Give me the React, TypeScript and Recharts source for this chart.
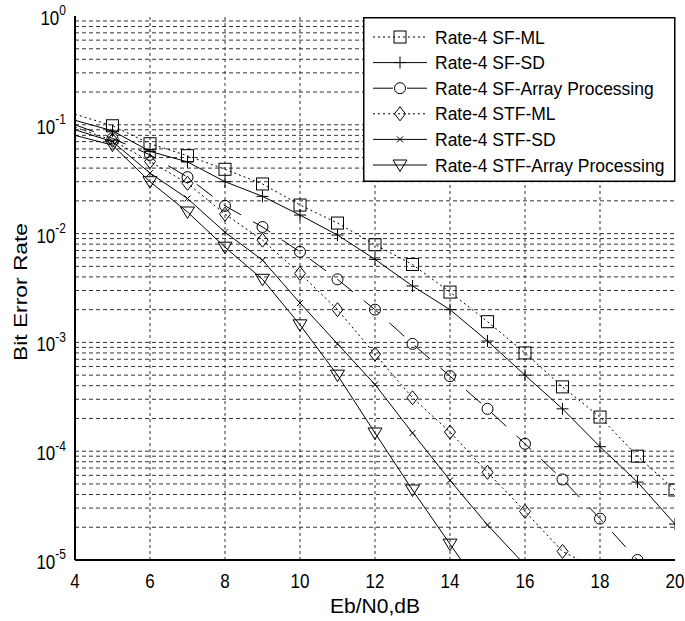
import React from 'react';
import { LineChart, Line, XAxis, YAxis, ReferenceLine, Legend, Label } from 'recharts';

const FONT = '"Liberation Sans", Arial, Helvetica, sans-serif';

// Eb/N0 (dB)
const snrDb = [4, 5, 6, 7, 8, 9, 10, 11, 12, 13, 14, 15, 16, 17, 18, 19, 20];

// Bit error rate series
const sfMl = [0.125, 0.098, 0.067, 0.052, 0.039, 0.0286, 0.0183, 0.0125, 0.0079, 0.0052, 0.0029, 0.00155, 0.0008, 0.00039, 0.000206, 0.00009, 0.000044];
const sfSd = [0.11, 0.088, 0.057, 0.0456, 0.03, 0.022, 0.0148, 0.0097, 0.0058, 0.0033, 0.002, 0.00103, 0.0005, 0.000245, 0.00011, 0.000052, 0.0000214];
const sfArray = [0.1, 0.075, 0.053, 0.033, 0.018, 0.0115, 0.0068, 0.0038, 0.002, 0.00097, 0.00049, 0.000245, 0.000117, 0.000055, 0.000024, 0.00001, null];
const stfMl = [0.095, 0.072, 0.046, 0.029, 0.0151, 0.0087, 0.0043, 0.002, 0.00078, 0.00031, 0.00015, 0.000064, 0.000028, 0.000012, 0.000008, null, null];
const stfSd = [0.09, 0.07, 0.036, 0.021, 0.0103, 0.0057, 0.0023, 0.00097, 0.00041, 0.000147, 0.000054, 0.000021, 0.000009, null, null, null, null];
const stfArray = [0.08, 0.065, 0.03, 0.0158, 0.0075, 0.0038, 0.00145, 0.0005, 0.000147, 0.000044, 0.000014, 0.0000045, null, null, null, null, null];

const seriesNames = [
  'Rate-4 SF-ML',
  'Rate-4 SF-SD',
  'Rate-4 SF-Array Processing',
  'Rate-4 STF-ML',
  'Rate-4 STF-SD',
  'Rate-4 STF-Array Processing',
];

const xTicks = [4, 6, 8, 10, 12, 14, 16, 18, 20];
const xGrid = [6, 8, 10, 12, 14, 16, 18];
const yTicks = [0.00001, 0.0001, 0.001, 0.01, 0.1, 1];
const yGrid = [
  2e-5, 3e-5, 4e-5, 5e-5, 6e-5, 7e-5, 8e-5, 9e-5,
  1e-4, 2e-4, 3e-4, 4e-4, 5e-4, 6e-4, 7e-4, 8e-4, 9e-4,
  1e-3, 2e-3, 3e-3, 4e-3, 5e-3, 6e-3, 7e-3, 8e-3, 9e-3,
  1e-2, 2e-2, 3e-2, 4e-2, 5e-2, 6e-2, 7e-2, 8e-2, 9e-2,
  1e-1, 2e-1, 3e-1, 4e-1, 5e-1, 6e-1, 7e-1, 8e-1, 9e-1,
];

const seriesDefs = [
  { key: 'sfMl', values: sfMl, name: seriesNames[0], marker: 'square', dash: '2 3' },
  { key: 'sfSd', values: sfSd, name: seriesNames[1], marker: 'plus', dash: undefined },
  { key: 'sfArray', values: sfArray, name: seriesNames[2], marker: 'circle', dash: '20 14' },
  { key: 'stfMl', values: stfMl, name: seriesNames[3], marker: 'diamond', dash: '2 3' },
  { key: 'stfSd', values: stfSd, name: seriesNames[4], marker: 'cross', dash: undefined },
  { key: 'stfArray', values: stfArray, name: seriesNames[5], marker: 'triangle', dash: undefined },
];

const data = snrDb.map((x, i) => {
  const row: any = { x };
  seriesDefs.forEach((s) => {
    row[s.key] = s.values[i];
  });
  return row;
});

function markerShape(shape: string, cx: number, cy: number, key?: string) {
  const common = { fill: 'none', stroke: '#000', strokeWidth: 1 } as any;
  switch (shape) {
    case 'square':
      return <rect key={key} x={cx - 6} y={cy - 6} width={12} height={12} {...common} />;
    case 'plus':
      return <path key={key} d={`M${cx - 6},${cy}H${cx + 6}M${cx},${cy - 6}V${cy + 6}`} {...common} />;
    case 'circle':
      return <circle key={key} cx={cx} cy={cy} r={5.5} {...common} />;
    case 'diamond':
      return <path key={key} d={`M${cx},${cy - 7}L${cx + 5.5},${cy}L${cx},${cy + 7}L${cx - 5.5},${cy}Z`} {...common} />;
    case 'cross':
      return <path key={key} d={`M${cx - 3},${cy - 3}L${cx + 3},${cy + 3}M${cx + 3},${cy - 3}L${cx - 3},${cy + 3}`} {...common} />;
    case 'triangle':
      return <path key={key} d={`M${cx - 7},${cy - 5}L${cx + 7},${cy - 5}L${cx},${cy + 6.5}Z`} {...common} />;
    default:
      return <g key={key} />;
  }
}

function makeDot(shape: string) {
  return (props: any) => {
    const { cx, cy, payload, value, index } = props;
    const k = `dot-${shape}-${index}`;
    const v = Array.isArray(value) ? value[1] : value;
    if (cx == null || cy == null || payload == null || payload.x === 4 || v == null || v < 9.5e-6) {
      return <g key={k} />;
    }
    return markerShape(shape, cx, cy, k);
  };
}

const renderLegend = () => {
  const rowGap = 25.6;
  return (
    <svg width={313} height={165} style={{ display: 'block' }}>
      <rect x={0.75} y={0.75} width={311} height={163.5} fill="#fff" stroke="#000" strokeWidth={1.5} />
      {seriesDefs.map((s, i) => {
        const cy = 20 + i * rowGap;
        return (
          <g key={s.key}>
            <line x1={10} x2={64} y1={cy} y2={cy} stroke="#000" strokeWidth={1} strokeDasharray={s.dash} />
            {markerShape(s.marker, 37, cy)}
            <text x={0} y={0} transform={`translate(72, ${cy + 6.5}) scale(1, 1.08)`} fontSize={17.5} fontFamily={FONT} fill="#000">
              {s.name}
            </text>
          </g>
        );
      })}
    </svg>
  );
};

const XTick = (props: any) => {
  const { x, payload } = props;
  return (
    <text x={0} y={0} transform={`translate(${x}, 588) scale(1, 1.2)`} textAnchor="middle" fontSize={17} fontFamily={FONT} fill="#000">
      {payload.value}
    </text>
  );
};

const YTick = (props: any) => {
  const { x, y, payload } = props;
  const exp = Math.round(Math.log10(payload.value));
  return (
    <text x={0} y={0} transform={`translate(${x - 1}, ${y + 9}) scale(1, 1.2)`} textAnchor="end" fontSize={17} fontFamily={FONT} fill="#000">
      <tspan>10</tspan>
      <tspan dy={-8} fontSize={12}>{exp}</tspan>
    </text>
  );
};

const YLabel = (props: any) => {
  const vb = props.viewBox || { x: 0, y: 16, width: 75, height: 544 };
  const cx = 20;
  const cy = vb.y + vb.height / 2 + 4;
  return (
    <text x={0} y={0} transform={`translate(${cx}, ${cy}) rotate(-90) scale(1.2, 1)`} textAnchor="middle" dominantBaseline="central" fontSize={19} fontFamily={FONT} fill="#000">
      Bit Error Rate
    </text>
  );
};

export default function App() {
  return (
    <div style={{ position: 'absolute', left: 0, top: 0, width: 685, height: 621, background: '#fff' }}>
      <LineChart width={685} height={621} data={data} margin={{ top: 16, right: 10, bottom: 0, left: 0 }}>
        <XAxis
          dataKey="x"
          type="number"
          domain={[4, 20]}
          ticks={xTicks}
          height={61}
          tickLine={false}
          tickSize={0}
          tickMargin={10}
          axisLine={{ stroke: '#000', strokeWidth: 2 }}
          tick={<XTick />}
          allowDataOverflow
        >
          <Label value="Eb/N0,dB" position="insideBottom" offset={8} style={{ fontSize: 21, fill: '#000', fontFamily: FONT }} />
        </XAxis>
        <XAxis xAxisId="top" orientation="top" type="number" domain={[4, 20]} height={0} tick={false} tickLine={false} axisLine={{ stroke: '#000', strokeWidth: 1.5 }} />
        <YAxis
          scale="log"
          type="number"
          domain={[0.00001, 1]}
          ticks={yTicks}
          allowDataOverflow
          width={75}
          tickLine={false}
          axisLine={{ stroke: '#000', strokeWidth: 2 }}
          tick={<YTick />}
        >
          <Label content={<YLabel />} />
        </YAxis>
        <YAxis yAxisId="right" orientation="right" scale="log" type="number" domain={[0.00001, 1]} allowDataOverflow width={0} tick={false} tickLine={false} axisLine={{ stroke: '#000', strokeWidth: 1.5 }} />
        {xGrid.map((v) => (
          <ReferenceLine key={`xg-${v}`} x={v} stroke="#333" strokeWidth={1} strokeDasharray="3 3" />
        ))}
        {yGrid.map((v) => (
          <ReferenceLine key={`yg-${v}`} y={v} stroke="#333" strokeWidth={1} strokeDasharray="4 3" />
        ))}
        <Legend
          layout="horizontal"
          verticalAlign="middle"
          align="center"
          content={renderLegend}
          wrapperStyle={{ left: 363, top: 17, width: 313, height: 165 }}
        />
        {seriesDefs.map((s) => (
          <Line
            key={s.key}
            dataKey={s.key}
            name={s.name}
            type="linear"
            stroke="#000"
            strokeWidth={1}
            strokeDasharray={s.dash}
            dot={makeDot(s.marker)}
            activeDot={false}
            isAnimationActive={false}
            connectNulls={false}
          />
        ))}
      </LineChart>
    </div>
  );
}
